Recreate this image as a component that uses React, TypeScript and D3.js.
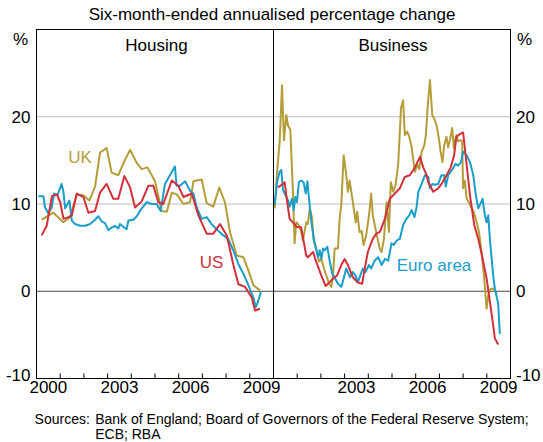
import React from "react";
import * as d3 from "d3";

// ---- Data (decimal year, % six-month-ended annualised change) ----
const housingUK: [number, number][] = [
  [2000.22, 8.2], [2000.71, 9.0], [2001.13, 7.9], [2001.42, 8.5], [2001.70, 11.1], [2001.98, 11.0],
  [2002.23, 10.4], [2002.47, 12.0], [2002.68, 15.9], [2002.96, 16.4], [2003.17, 13.6], [2003.45, 13.3],
  [2003.74, 15.1], [2003.95, 16.2], [2004.23, 14.7], [2004.44, 14.0], [2004.68, 14.2], [2005.0, 12.6],
  [2005.28, 9.2], [2005.50, 9.1], [2005.71, 11.3], [2005.92, 11.1], [2006.20, 10.0], [2006.48, 10.2],
  [2006.62, 12.6], [2006.97, 12.8], [2007.18, 10.1], [2007.46, 9.7], [2007.71, 11.9], [2007.95, 10.2],
  [2008.17, 6.7], [2008.45, 4.1], [2008.73, 3.9], [2008.94, 2.4], [2009.15, 0.7], [2009.43, 0.1],
];

const housingUS: [number, number][] = [
  [2000.22, 6.4], [2000.43, 7.5], [2000.65, 10.9], [2000.86, 11.1], [2001.0, 10.2], [2001.14, 8.3],
  [2001.35, 8.5], [2001.49, 8.7], [2001.70, 11.2], [2001.98, 10.8], [2002.19, 9.0], [2002.47, 9.2],
  [2002.68, 11.3], [2002.96, 12.3], [2003.24, 10.6], [2003.45, 10.6], [2003.71, 13.2], [2003.95, 11.9],
  [2004.16, 9.6], [2004.44, 10.3], [2004.72, 12.1], [2004.93, 12.1], [2005.14, 10.2], [2005.35, 10.0],
  [2005.71, 12.7], [2005.98, 12.1], [2006.20, 10.8], [2006.55, 11.2], [2006.83, 8.7], [2007.18, 6.6],
  [2007.46, 6.6], [2007.74, 7.7], [2008.03, 6.4], [2008.30, 3.1], [2008.52, 0.8], [2008.80, 0.5],
  [2009.08, -0.7], [2009.22, -2.2], [2009.43, -2.0],
];

const housingEuro: [number, number][] = [
  [2000.08, 10.9], [2000.29, 10.9], [2000.36, 9.6], [2000.50, 8.9], [2000.64, 9.6], [2000.74, 11.2],
  [2000.88, 11.0], [2001.06, 12.3], [2001.13, 11.5], [2001.21, 9.5], [2001.39, 10.4], [2001.49, 8.1],
  [2001.63, 7.7], [2001.84, 7.5], [2002.05, 7.5], [2002.26, 7.7], [2002.47, 8.2], [2002.61, 8.6],
  [2002.75, 8.0], [2002.89, 7.8], [2003.03, 7.0], [2003.17, 7.3], [2003.31, 7.5], [2003.45, 7.2],
  [2003.52, 7.7], [2003.66, 7.4], [2003.80, 7.1], [2003.88, 8.1], [2004.09, 8.2], [2004.23, 8.6],
  [2004.44, 9.5], [2004.65, 10.2], [2004.86, 10.0], [2005.07, 10.0], [2005.24, 9.2], [2005.42, 12.3],
  [2005.63, 13.3], [2005.84, 14.3], [2005.91, 12.1], [2006.05, 12.1], [2006.27, 12.6], [2006.48, 11.5],
  [2006.62, 11.2], [2006.76, 9.6], [2006.97, 8.3], [2007.18, 8.5], [2007.39, 7.7], [2007.60, 7.1],
  [2007.88, 6.4], [2008.09, 6.0], [2008.30, 4.7], [2008.52, 3.1], [2008.73, 2.0], [2008.94, 0.7],
  [2009.15, -0.7], [2009.25, -1.8], [2009.32, -1.4], [2009.47, -0.1],
];

const businessUK: [number, number][] = [
  [2000.05, 9.5], [2000.15, 13.7], [2000.26, 17.1], [2000.36, 23.6], [2000.44, 17.3], [2000.54, 20.2],
  [2000.61, 19.0], [2000.71, 18.5], [2000.82, 11.4], [2000.89, 5.5], [2000.96, 7.9], [2001.07, 7.6],
  [2001.17, 6.8], [2001.24, 5.8], [2001.38, 7.9], [2001.45, 7.7], [2001.53, 9.5], [2001.62, 8.5],
  [2001.70, 5.7], [2001.80, 4.9], [2001.92, 3.4], [2002.02, 3.7], [2002.13, 2.6], [2002.23, 1.8],
  [2002.34, 0.9], [2002.44, 0.5], [2002.51, 1.8], [2002.58, 4.9], [2002.72, 4.9], [2002.79, 8.3],
  [2002.86, 9.9], [2002.96, 15.6], [2003.07, 13.3], [2003.14, 11.4], [2003.21, 12.7], [2003.35, 10.2],
  [2003.47, 7.9], [2003.53, 9.1], [2003.63, 6.8], [2003.72, 6.9], [2003.80, 5.3], [2003.91, 6.4],
  [2004.03, 8.7], [2004.12, 11.2], [2004.19, 8.7], [2004.33, 6.8], [2004.48, 4.9], [2004.56, 4.5],
  [2004.66, 6.0], [2004.77, 10.2], [2004.87, 6.8], [2004.95, 12.5], [2005.05, 11.4], [2005.15, 12.2],
  [2005.26, 14.5], [2005.38, 21.0], [2005.47, 21.9], [2005.54, 17.9], [2005.64, 18.3], [2005.73, 17.7],
  [2005.83, 16.5], [2005.89, 15.2], [2005.97, 13.7], [2006.06, 14.6], [2006.15, 14.0], [2006.25, 16.0],
  [2006.36, 16.7], [2006.43, 17.9], [2006.50, 21.0], [2006.60, 24.2], [2006.70, 20.2], [2006.78, 19.8],
  [2006.88, 19.0], [2006.98, 17.5], [2007.05, 16.0], [2007.13, 14.8], [2007.20, 16.7], [2007.30, 17.7],
  [2007.37, 16.5], [2007.44, 17.3], [2007.54, 18.7], [2007.61, 16.4], [2007.65, 17.2], [2007.72, 17.9],
  [2007.79, 17.2], [2007.91, 17.3], [2007.96, 17.2], [2008.00, 11.8], [2008.07, 12.7], [2008.15, 10.6],
  [2008.24, 10.2], [2008.36, 9.5], [2008.45, 9.1], [2008.57, 7.9], [2008.67, 6.8], [2008.78, 4.5],
  [2008.89, 1.5], [2008.99, -2.0], [2009.06, -0.5], [2009.17, 0.3], [2009.30, 0.3], [2009.42, -0.3],
];

const businessUS: [number, number][] = [
  [2000.19, 11.9], [2000.30, 12.1], [2000.47, 12.5], [2000.54, 11.0], [2000.68, 8.3], [2000.82, 7.9],
  [2000.96, 7.4], [2001.17, 7.3], [2001.38, 4.1], [2001.45, 3.9], [2001.67, 4.5], [2001.80, 3.4],
  [2002.02, 1.8], [2002.20, 0.6], [2002.44, 1.25], [2002.68, 1.8], [2002.86, 3.0], [2003.00, 3.7],
  [2003.14, 3.0], [2003.35, 1.6], [2003.56, 1.0], [2003.74, 0.85], [2003.85, 2.6], [2003.98, 4.5],
  [2004.19, 6.0], [2004.34, 6.6], [2004.49, 6.8], [2004.70, 8.3], [2004.91, 10.6], [2005.12, 11.2],
  [2005.33, 11.8], [2005.54, 13.1], [2005.75, 13.3], [2005.97, 14.2], [2006.18, 15.4], [2006.32, 14.2],
  [2006.46, 13.3], [2006.53, 12.5], [2006.74, 11.4], [2006.95, 11.8], [2007.09, 12.3], [2007.30, 13.3],
  [2007.48, 14.2], [2007.62, 15.6], [2007.72, 17.7], [2007.86, 18.0], [2008.00, 18.2], [2008.15, 14.5],
  [2008.29, 11.0], [2008.47, 7.6], [2008.64, 6.0], [2008.78, 4.3], [2008.99, 1.5], [2009.13, -1.2],
  [2009.27, -3.9], [2009.34, -5.4], [2009.48, -6.1],
];

const businessEuro: [number, number][] = [
  [2000.05, 9.9], [2000.15, 12.5], [2000.26, 13.7], [2000.33, 13.9], [2000.40, 11.6], [2000.51, 11.0],
  [2000.61, 10.4], [2000.68, 9.7], [2000.78, 10.6], [2000.85, 9.3], [2000.92, 10.8], [2000.99, 10.2],
  [2001.07, 12.5], [2001.17, 12.7], [2001.27, 12.5], [2001.36, 11.2], [2001.43, 12.6], [2001.50, 10.6],
  [2001.60, 7.9], [2001.70, 6.0], [2001.78, 5.1], [2001.88, 3.9], [2001.95, 4.7], [2002.02, 3.7],
  [2002.09, 4.9], [2002.17, 4.7], [2002.27, 5.1], [2002.37, 3.5], [2002.48, 2.0], [2002.58, 1.6],
  [2002.68, 1.05], [2002.76, 0.75], [2002.86, 0.5], [2002.96, 1.45], [2003.07, 2.6], [2003.17, 2.0],
  [2003.23, 1.6], [2003.35, 2.2], [2003.46, 1.8], [2003.56, 1.05], [2003.66, 1.8], [2003.77, 2.6],
  [2003.88, 2.2], [2004.03, 3.0], [2004.12, 2.6], [2004.27, 3.5], [2004.41, 3.9], [2004.49, 3.5],
  [2004.56, 3.0], [2004.70, 3.7], [2004.84, 3.5], [2004.98, 5.5], [2005.08, 5.3], [2005.19, 5.8],
  [2005.33, 6.0], [2005.47, 7.6], [2005.61, 8.3], [2005.73, 8.7], [2005.83, 9.3], [2005.95, 8.5],
  [2006.04, 9.7], [2006.11, 11.4], [2006.25, 12.3], [2006.39, 13.3], [2006.53, 13.1], [2006.60, 11.8],
  [2006.70, 12.3], [2006.81, 12.2], [2006.95, 12.3], [2007.09, 13.3], [2007.20, 13.3], [2007.27, 12.0],
  [2007.37, 13.3], [2007.48, 13.7], [2007.58, 14.1], [2007.68, 14.6], [2007.79, 14.4], [2007.91, 14.8],
  [2008.00, 16.0], [2008.15, 15.6], [2008.29, 14.8], [2008.43, 13.3], [2008.54, 11.0], [2008.64, 9.5],
  [2008.76, 10.2], [2008.82, 10.6], [2008.92, 8.7], [2008.99, 7.9], [2009.06, 8.7], [2009.13, 6.0],
  [2009.27, 1.8], [2009.34, 0.3], [2009.48, -1.4], [2009.55, -4.9],
];

const yTicks = [-10, 0, 10, 20];
const gridValues = [10, 20];
const yearTicks = [2000, 2001, 2002, 2003, 2004, 2005, 2006, 2007, 2008, 2009, 2010];
const leftYearLabels = [2000, 2003, 2006, 2009];
const rightYearLabels = [2003, 2006, 2009];

const title = "Six-month-ended annualised percentage change";
const panelTitles = ["Housing", "Business"];
const sourceLabel = "Sources:";
const sourceLine1 = "Bank of England; Board of Governors of the Federal Reserve System;";
const sourceLine2 = "ECB; RBA";

const COLORS = { uk: "#B49D38", us: "#D2303A", euro: "#1A9DC8" };
const FONT = "'Liberation Sans', Arial, Helvetica, sans-serif";

export default function App() {
  const W = 543, H = 442;
  const top = 29.5, bottom = 378.5;
  const leftX0 = 36.5, midX = 273.5, rightX1 = 510.5;

  const y = d3.scaleLinear().domain([-10, 30]).range([bottom, top]);
  const xL = d3.scaleLinear().domain([2000, 2010]).range([leftX0, midX]);
  const xR = d3.scaleLinear().domain([2000, 2010]).range([midX, rightX1]);

  const mkLine = (x: d3.ScaleLinear<number, number>) =>
    d3.line<[number, number]>().x((d) => x(d[0])).y((d) => y(d[1]));
  const lineL = mkLine(xL);
  const lineR = mkLine(xR);

  const labelBaseline = (v: number) => (v === -10 ? y(v) + 2.5 : y(v) + 6);

  return (
    <svg
      width={W}
      height={H}
      style={{ position: "absolute", left: 0, top: 0, background: "#fff" }}
      fontFamily={FONT}
    >
      <rect x={0} y={0} width={W} height={H} fill="#fff" />
      {/* title */}
      <text x={272} y={19.5} fontSize={17} textAnchor="middle" fill="#000">
        {title}
      </text>

      {/* gridlines */}
      {gridValues.map((v) => (
        <line key={v} x1={leftX0} x2={rightX1} y1={y(v)} y2={y(v)} stroke="#bdbdbd" strokeWidth={1} />
      ))}
      <line x1={leftX0} x2={rightX1} y1={y(0)} y2={y(0)} stroke="#4a4a4a" strokeWidth={1} />

      {/* series */}
      <g fill="none" strokeWidth={2} strokeLinejoin="round">
        <path d={lineL(housingUK) || ""} stroke={COLORS.uk} />
        <path d={lineL(housingEuro) || ""} stroke={COLORS.euro} />
        <path d={lineL(housingUS) || ""} stroke={COLORS.us} />
        <path d={lineR(businessUK) || ""} stroke={COLORS.uk} />
        <path d={lineR(businessEuro) || ""} stroke={COLORS.euro} />
        <path d={lineR(businessUS) || ""} stroke={COLORS.us} />
      </g>

      {/* frame */}
      <rect x={leftX0} y={top} width={rightX1 - leftX0} height={bottom - top} fill="none" stroke="#000" strokeWidth={1} />
      <line x1={midX} x2={midX} y1={top} y2={bottom} stroke="#000" strokeWidth={1} />

      {/* x ticks */}
      {yearTicks.map((t) => (
        <g key={"t" + t}>
          <line x1={xL(t)} x2={xL(t)} y1={bottom} y2={bottom - 5} stroke="#000" />
          <line x1={xR(t)} x2={xR(t)} y1={bottom} y2={bottom - 5} stroke="#000" />
        </g>
      ))}
      {leftYearLabels.map((t) => (
        <text key={"l" + t} x={xL(t + 0.5)} y={393} fontSize={17} textAnchor="middle">
          {t}
        </text>
      ))}
      {rightYearLabels.map((t) => (
        <text key={"r" + t} x={xR(t + 0.5)} y={393} fontSize={17} textAnchor="middle">
          {t}
        </text>
      ))}

      {/* y labels */}
      {yTicks.map((v) => (
        <g key={"y" + v}>
          <text x={30.5} y={labelBaseline(v)} fontSize={17} textAnchor="end">
            {v}
          </text>
          <text x={516} y={labelBaseline(v)} fontSize={17} textAnchor="start">
            {v}
          </text>
        </g>
      ))}
      <text x={28} y={45} fontSize={17} textAnchor="end">%</text>
      <text x={517} y={45} fontSize={17} textAnchor="start">%</text>

      {/* panel titles */}
      <text x={156.5} y={51} fontSize={17} textAnchor="middle">{panelTitles[0]}</text>
      <text x={393} y={51} fontSize={17} textAnchor="middle">{panelTitles[1]}</text>

      {/* series labels */}
      <text x={80} y={163} fontSize={17} textAnchor="middle" fill={COLORS.uk}>UK</text>
      <text x={211.5} y={268} fontSize={17} textAnchor="middle" fill={COLORS.us}>US</text>
      <text x={434} y={270.5} fontSize={17} textAnchor="middle" fill={COLORS.euro}>Euro area</text>

      {/* sources */}
      <text x={34.6} y={423.5} fontSize={14}>{sourceLabel}</text>
      <text x={95.2} y={423.5} fontSize={14}>{sourceLine1}</text>
      <text x={95.2} y={439} fontSize={14}>{sourceLine2}</text>
    </svg>
  );
}
